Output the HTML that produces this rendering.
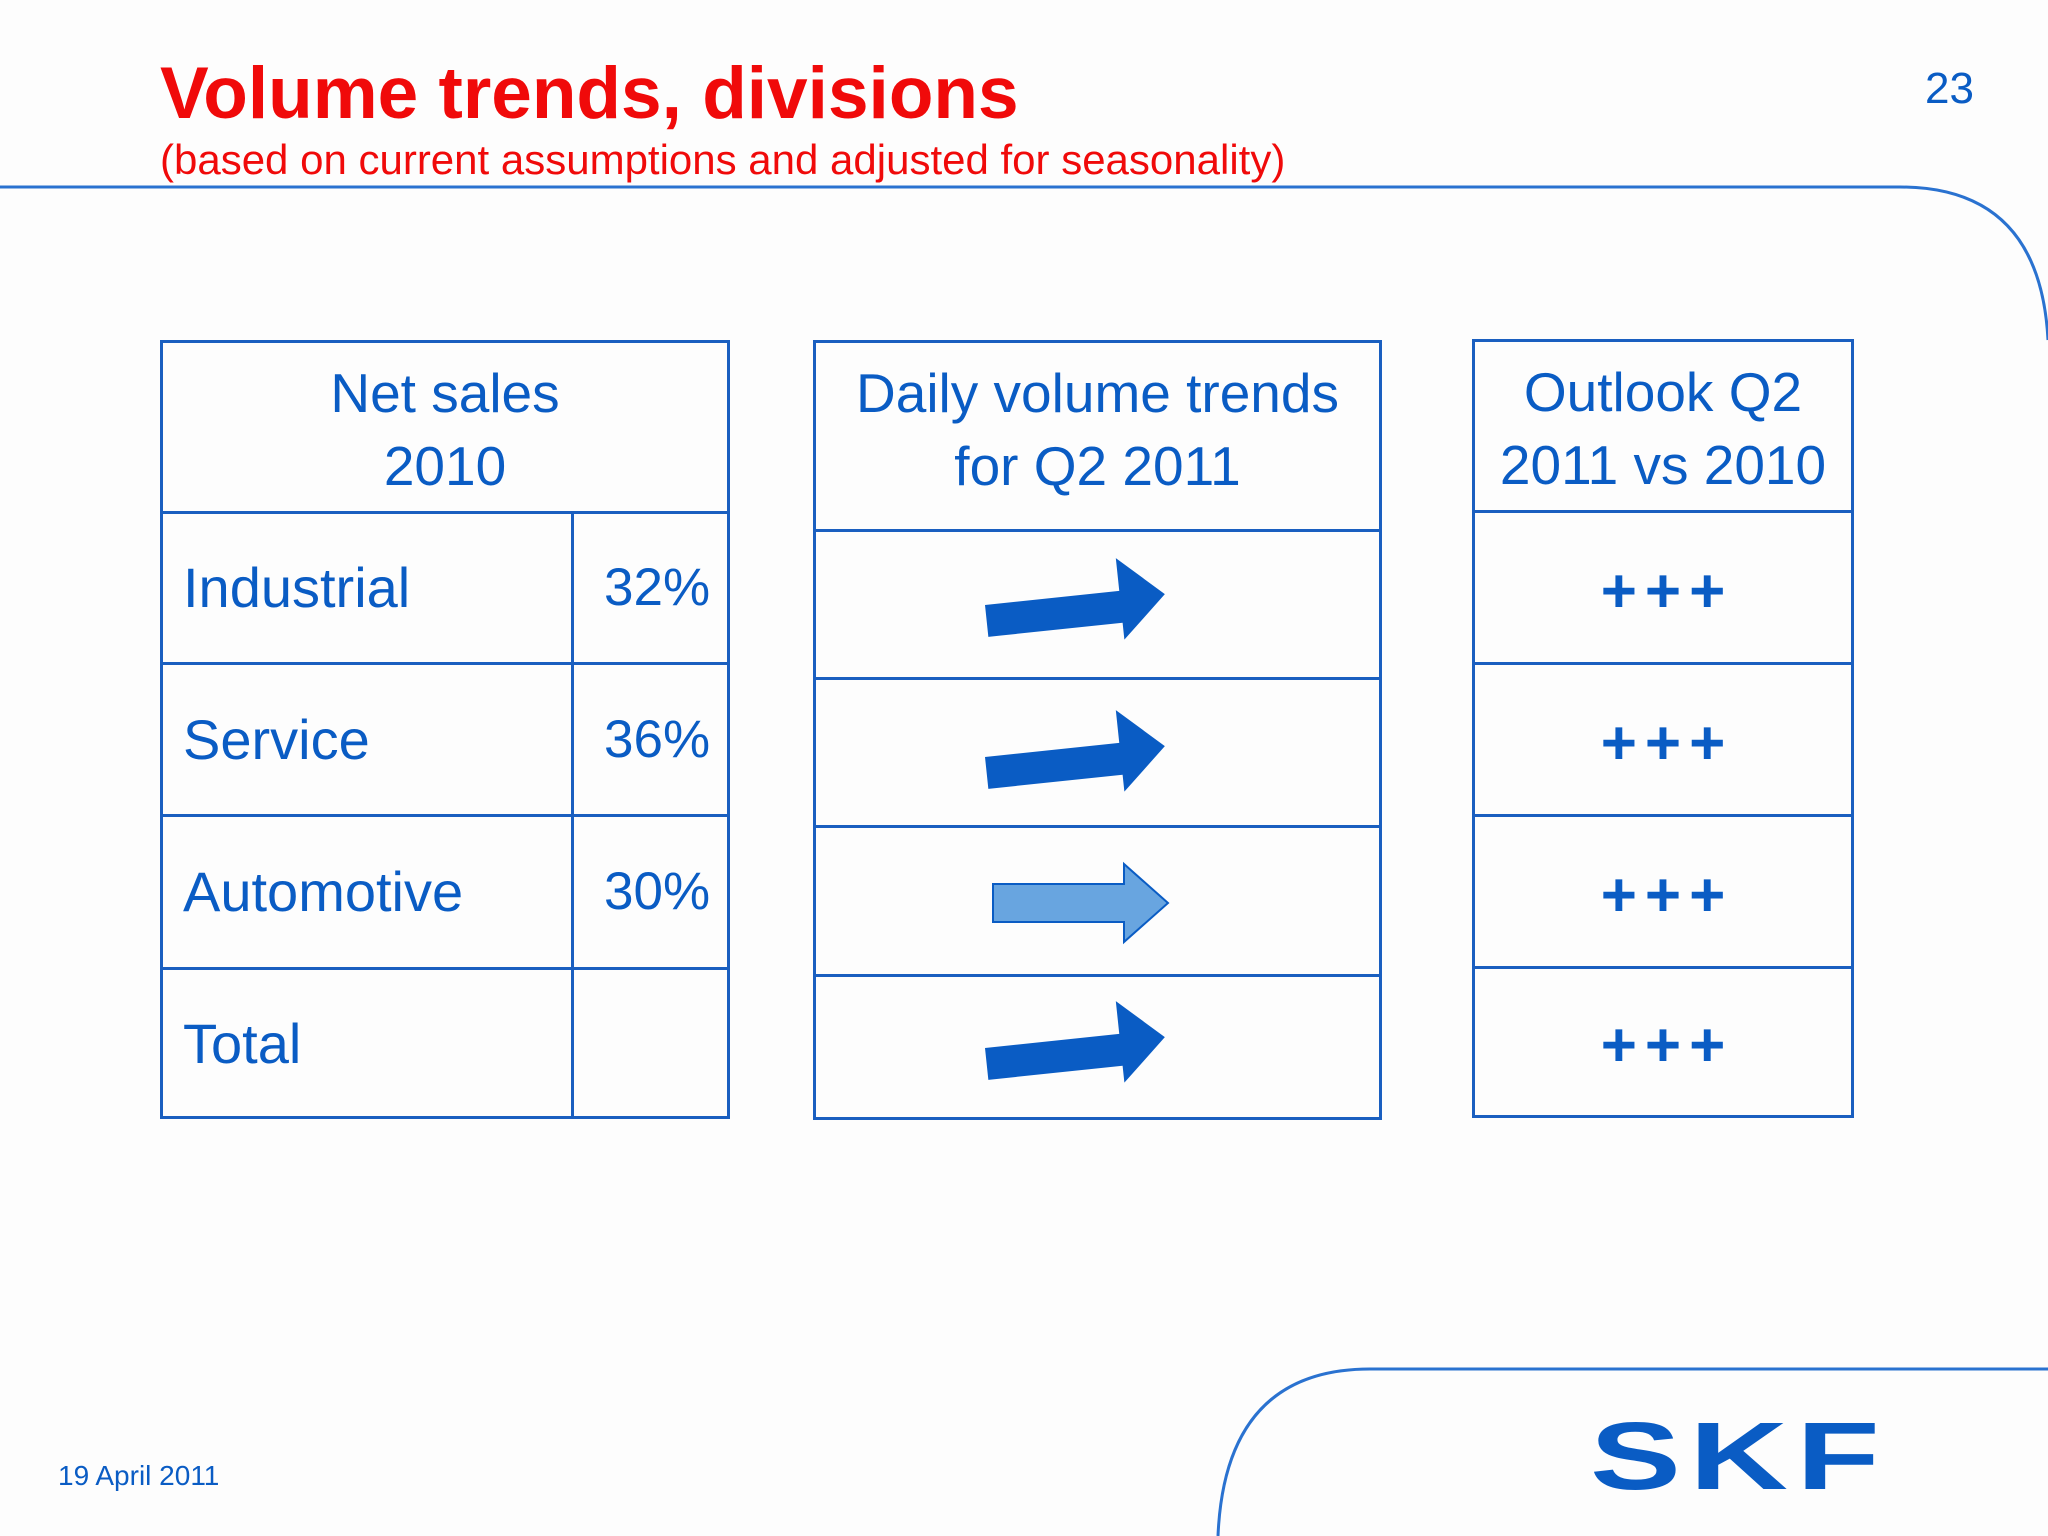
<!DOCTYPE html>
<html><head><meta charset="utf-8"><style>
body{margin:0;width:2048px;height:1536px;background:#fdfdfd;position:relative;overflow:hidden;font-family:"Liberation Sans","DejaVu Sans",sans-serif;color:#0a5cc4}
.a{position:absolute}
.box{position:absolute;border:3px solid #1a5fc0;box-sizing:border-box}
.h{position:absolute;left:0;right:0;height:3px;background:#1a5fc0}
.v{position:absolute;top:0;bottom:0;width:3px;background:#1a5fc0}
.t{position:absolute;font-size:56px;white-space:nowrap}
.hd{position:absolute;left:0;right:0;text-align:center;font-size:55px;line-height:73px}
.pl{position:absolute;left:8px;right:0;text-align:center;font-size:62px;font-weight:bold;letter-spacing:8px}
</style></head><body>
<div class="a" style="left:160px;top:52px;font-size:73px;font-weight:bold;color:#f00a0a">Volume trends, divisions</div>
<div class="a" style="left:160px;top:136px;font-size:42px;color:#f00a0a">(based on current assumptions and adjusted for seasonality)</div>
<div class="a" style="left:1925px;top:64px;font-size:44px">23</div>
<svg class="a" style="left:0;top:0" width="2048" height="1536">
<path d="M0 187 H1900 Q2040 187 2048 340" fill="none" stroke="#2a72d0" stroke-width="3"/>
<path d="M2048 1369 H1370 Q1225 1369 1218 1536" fill="none" stroke="#2a72d0" stroke-width="3"/>
</svg>
<div class="box" style="left:160px;top:340px;width:570px;height:779px">
<div class="hd" style="top:14px">Net sales<br>2010</div>
<div class="h" style="top:168px"></div><div class="h" style="top:319px"></div><div class="h" style="top:471px"></div><div class="h" style="top:624px"></div>
<div class="v" style="left:408px;top:168px"></div>
<div class="t" style="left:20px;top:212px">Industrial</div>
<div class="t" style="left:441px;top:214px;font-size:53px">32%</div>
<div class="t" style="left:20px;top:364px">Service</div>
<div class="t" style="left:441px;top:366px;font-size:53px">36%</div>
<div class="t" style="left:20px;top:516px">Automotive</div>
<div class="t" style="left:441px;top:518px;font-size:53px">30%</div>
<div class="t" style="left:20px;top:668px">Total</div>
</div>
<div class="box" style="left:813px;top:340px;width:569px;height:780px">
<div class="hd" style="top:14px">Daily volume trends<br>for Q2 2011</div>
<div class="h" style="top:186px"></div><div class="h" style="top:334px"></div><div class="h" style="top:482px"></div><div class="h" style="top:631px"></div>
</div>
<svg class="a" style="left:0;top:0" width="2048" height="1536">
<g transform="translate(985,605) rotate(-6)"><polygon points="0,0 135,0 135,-33 180,8 135,49 135,32 0,32" fill="#0a5cc4"/></g>
<g transform="translate(985,757) rotate(-6)"><polygon points="0,0 135,0 135,-33 180,8 135,49 135,32 0,32" fill="#0a5cc4"/></g>
<g><polygon points="993,884 1124,884 1124,864 1168,903 1124,942 1124,922 993,922" fill="#68a5e0" stroke="#0a5cc4" stroke-width="2"/></g>
<g transform="translate(985,1048) rotate(-6)"><polygon points="0,0 135,0 135,-33 180,8 135,49 135,32 0,32" fill="#0a5cc4"/></g>
</svg>
<div class="box" style="left:1472px;top:339px;width:382px;height:779px">
<div class="hd" style="top:14px">Outlook Q2<br>2011 vs 2010</div>
<div class="h" style="top:168px"></div><div class="h" style="top:320px"></div><div class="h" style="top:472px"></div><div class="h" style="top:624px"></div>
<div class="pl" style="top:214px">+++</div>
<div class="pl" style="top:366px">+++</div>
<div class="pl" style="top:518px">+++</div>
<div class="pl" style="top:668px">+++</div>
</div>
<div class="a" style="left:1590px;top:1402px;font-size:96px;font-weight:900;color:#0a5cc4;letter-spacing:6px;transform:scaleX(1.42);transform-origin:left">SKF</div>
<div class="a" style="left:58px;top:1460px;font-size:28px">19 April 2011</div>
</body></html>
